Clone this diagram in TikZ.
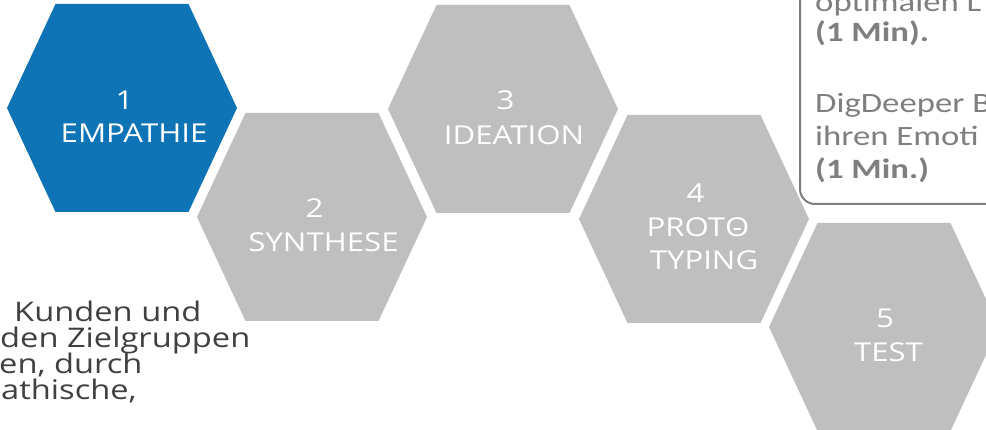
\documentclass[tikz,border=0pt]{standalone}
\usepackage{fontspec}
\setmainfont{Open Sans}
\newfontfamily\hexfont[FakeStretch=1.2]{Open Sans}
\newfontfamily\bodyfont[FakeStretch=1.21]{Open Sans}
\newfontfamily\boxfont[FakeStretch=1.24]{Carlito}
\definecolor{hexblue}{HTML}{0E74B6}
\definecolor{hexgray}{HTML}{BFBFBF}
\definecolor{boxgray}{HTML}{7F7F7F}
\definecolor{bodygray}{HTML}{404040}
\tikzset{
  pics/hexagon/.style={code={
    \fill[#1] (-115,0) -- (-66.5,-104) -- (66.5,-104) -- (115,0) -- (66.5,104) -- (-66.5,104) -- cycle;}},
  hextext/.style={text=white, inner sep=0pt, anchor=base, font=\hexfont\fontsize{26}{33}\selectfont},
  bodytext/.style={text=bodygray, inner sep=0pt, anchor=base west, font=\bodyfont\fontsize{27}{26}\selectfont},
  boxtext/.style={text=boxgray, inner sep=0pt, anchor=base west, font=\boxfont\fontsize{28}{34}\selectfont},
  boxbold/.style={boxtext, font=\boxfont\bfseries\fontsize{28}{34}\selectfont},
  boxline/.style={draw=boxgray, line width=2pt, fill=white, rounded corners=15pt}
}
\begin{document}
\begin{tikzpicture}[x=1pt,y=-1pt]
\useasboundingbox (0,0) rectangle (986,430);
\clip (0,0) rectangle (986,430);
\fill[white] (0,0) rectangle (986,430);

% hexagons
\pic at (122,108) {hexagon=hexblue};
\pic at (312,217) {hexagon=hexgray};
\pic at (503,109) {hexagon=hexgray};
\pic at (694,219) {hexagon=hexgray};
\pic at (884,327) {hexagon=hexgray};

% hexagon labels
\node[hextext] (n1) at (124.5,110) {1};
\node[hextext] (l1) at (134,143) {EMPATHIE};
\node[hextext] (n2) at (314.5,218) {2};
\node[hextext] (l2) at (323.5,252) {SYNTHESE};
\node[hextext] (n3) at (505.5,110) {3};
\node[hextext] (l3) at (514,145) {IDEATION};
\node[hextext] (n4) at (695.5,203) {4};
\node[hextext] (l4a) at (698,237) {PROT\ooalign{O\cr\hfil-\hfil}};
\node[hextext] (l4b) at (704,270) {TYPING};
\node[hextext] (n5) at (885,328) {5};
\node[hextext] (l5) at (888.5,362) {TEST};

% note box (top right)
\path[boxline] (800,-20) -- (800,204) -- (1010,204) -- (1010,-20);
\node[boxtext] (b1) at (815,12) {optimalen L};
\node[boxbold] (b2) at (815,42) {(1 Min).};
\node[boxtext] (b3) at (815,113) {DigDeeper B};
\node[boxtext] (b4) at (815,146) {ihren Emoti};
\node[boxbold] (b5) at (815,179) {(1 Min.)};

% body text (bottom left)
\node[bodytext] (t1) at (14,322) {Kunden und};
\node[bodytext] (t2) at (0,348) {den Zielgruppen};
\node[bodytext] (t3) at (-1,374) {en, durch};
\node[bodytext] (t4) at (1,400) {athische,};
\end{tikzpicture}
\end{document}
